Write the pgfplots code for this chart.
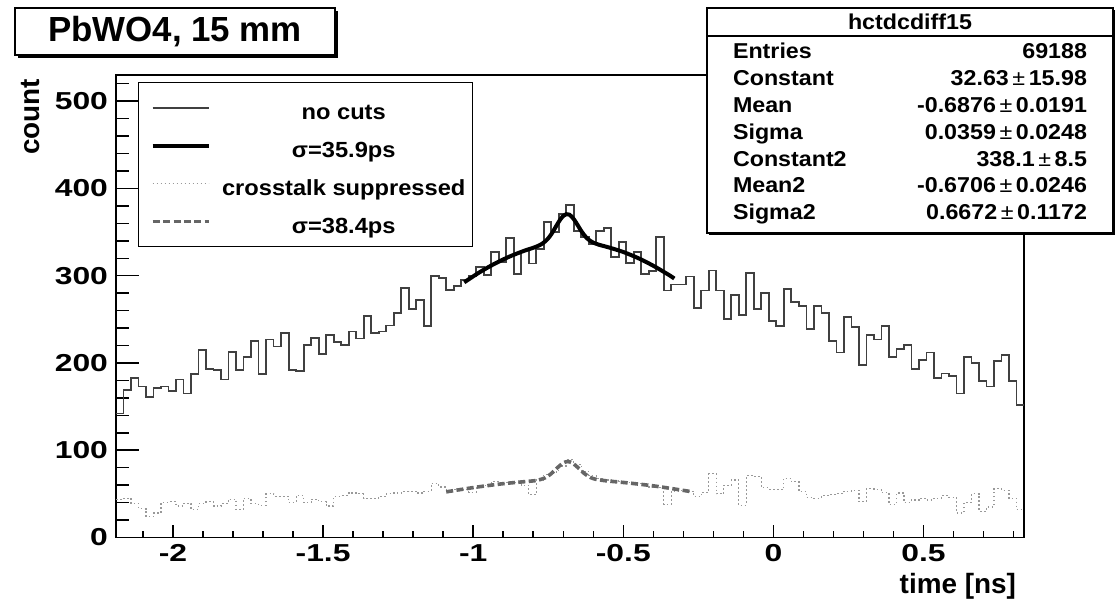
\documentclass[border=0pt]{standalone}
\usepackage{fontspec}
\setmainfont{Liberation Sans}
\newfontfamily\widefont[FakeStretch=1.3]{Liberation Sans}
\newfontfamily\midfont[FakeStretch=1.08]{Liberation Sans}
\usepackage{pgfplots}
\pgfplotsset{compat=1.18}
\usepackage{pgfplotstable}

\pgfplotstableread{
x a b
-2.190 142 44
-2.165 169 45
-2.140 183 39
-2.115 173 33
-2.090 161 24
-2.065 171 28
-2.040 173 40
-2.015 168 41
-1.990 181 36
-1.965 165 39
-1.940 187 32
-1.915 215 39
-1.890 193 41
-1.865 192 36
-1.840 181 39
-1.815 213 44
-1.790 192 32
-1.765 207 45
-1.740 225 39
-1.715 187 37
-1.690 227 50
-1.665 219 47
-1.640 234 47
-1.615 192 40
-1.590 191 48
-1.565 221 40
-1.540 229 44
-1.515 210 41
-1.490 232 36
-1.465 224 47
-1.440 221 48
-1.415 236 51
-1.390 228 50
-1.365 254 45
-1.340 234 45
-1.315 236 47
-1.290 243 50
-1.265 257 51
-1.240 286 53
-1.215 262 53
-1.190 272 51
-1.165 242 53
-1.140 300 62
-1.115 297 58
-1.090 284 53
-1.065 288 55
-1.040 295 55
-1.015 300 52
-0.990 310 57
-0.965 301 60
-0.940 327 64
-0.915 316 62
-0.890 343 63
-0.865 302 63
-0.840 329 60
-0.815 314 49
-0.790 331 66
-0.765 362 72
-0.740 350 75
-0.715 371 82
-0.690 381 89
-0.665 351 84
-0.640 344 76
-0.615 336 71
-0.590 351 68
-0.565 355 66
-0.540 321 65
-0.515 339 64
-0.490 315 63
-0.465 327 62
-0.440 302 60
-0.415 305 58
-0.390 344 57
-0.365 283 38
-0.340 290 53
-0.315 290 54
-0.290 299 53
-0.265 263 47
-0.240 283 52
-0.215 306 73
-0.190 283 50
-0.165 250 60
-0.140 278 66
-0.115 255 37
-0.090 303 71
-0.065 262 70
-0.040 280 57
-0.015 248 55
0.010 242 55
0.035 285 68
0.060 270 64
0.085 265 53
0.110 239 46
0.135 265 45
0.160 257 48
0.185 225 49
0.210 212 50
0.235 253 53
0.260 241 54
0.285 198 41
0.310 232 56
0.335 227 55
0.360 242 52
0.385 207 38
0.410 216 51
0.435 221 40
0.460 193 43
0.485 203 45
0.510 212 43
0.535 183 45
0.560 188 48
0.585 185 46
0.610 165 28
0.635 207 40
0.660 200 50
0.685 179 30
0.710 173 35
0.735 202 56
0.760 209 54
0.785 179 45
0.810 152 32
0.835 152 32
}\histdata

\pgfplotstableread{
x y
-1.03 292.4
-0.98 303.7
-0.93 313.5
-0.88 321.8
-0.83 328.6
-0.80 332.0
-0.78 334.8
-0.77 336.7
-0.76 339.4
-0.75 342.9
-0.74 347.5
-0.73 353.1
-0.72 358.9
-0.71 364.4
-0.70 368.5
-0.69 370.6
-0.68 370.0
-0.67 367.0
-0.66 362.4
-0.65 356.8
-0.64 351.3
-0.63 346.5
-0.62 342.6
-0.61 339.9
-0.60 337.9
-0.58 335.4
-0.55 332.6
-0.50 327.2
-0.45 320.1
-0.40 311.4
-0.35 301.3
-0.33 296.8
}\fitA

\pgfplotstableread{
x y
-1.09 52.3
-1.00 57.2
-0.90 61.7
-0.80 64.9
-0.78 66.1
-0.76 68.5
-0.74 73.2
-0.72 79.8
-0.70 85.5
-0.685 87.0
-0.67 85.5
-0.65 79.8
-0.63 73.4
-0.61 68.9
-0.59 66.6
-0.55 64.7
-0.50 63.1
-0.40 59.2
-0.30 54.0
-0.27 52.3
}\fitB

\newcommand{\tkf}{\widefont\bfseries\fontsize{12.3}{14}\selectfont}
\newcommand{\ttf}{\bfseries\fontsize{14}{16}\selectfont}
\newcommand{\lgf}{\midfont\bfseries\fontsize{11}{12}\selectfont}
\newcommand{\stf}{\midfont\bfseries\fontsize{10.8}{12}\selectfont}

\begin{document}
\begin{tikzpicture}[x=0.5bp,y=-0.5bp]
\path[use as bounding box] (0,0) rectangle (1116,602);

% title box
\fill[black] (18,11) rectangle (338,58);
\draw[fill=white, line width=0.7bp] (15,8) rectangle (335,55);
\node[font=\bfseries\fontsize{17.5}{20}\selectfont] at (175,32) {PbWO4, 15 mm};

% y ticks axis
\begin{axis}[
  at={(58bp,-268.75bp)}, anchor=south west, scale only axis,
  width=454bp, height=231.25bp,
  xmin=-2.19, xmax=0.835, ymin=0, ymax=530,
  axis line style={line width=0.75bp},
  xtick=\empty,
  ytick={0,100,200,300,400,500},
  yticklabels={0,100,200,300,400,500},
  minor ytick={20,40,60,80,120,140,160,180,220,240,260,280,320,340,360,380,420,440,460,480,520},
  tick align=inside, ytick pos=left,
  major tick length=11.5bp, minor tick length=6.3bp,
  every tick/.style={black, line width=0.75bp},
  yticklabel style={font=\tkf, xshift=-0.5bp},
]
\end{axis}

\begin{axis}[
  at={(58bp,-268.75bp)}, anchor=south west, scale only axis,
  width=454bp, height=231.25bp,
  xmin=-2.19, xmax=0.835, ymin=0, ymax=530,
  axis line style={line width=0.75bp},
  ytick=\empty,
  xtick={-2,-1.5,-1,-0.5,0,0.5},
  xticklabels={-2,-1.5,-1,-0.5,0,0.5},
  minor xtick={-2.1,-1.9,-1.8,-1.7,-1.6,-1.4,-1.3,-1.2,-1.1,-0.9,-0.8,-0.7,-0.6,-0.4,-0.3,-0.2,-0.1,0.1,0.2,0.3,0.4,0.6,0.7,0.8},
  tick align=inside, xtick pos=left,
  major tick length=6.5bp, minor tick length=3.5bp,
  every tick/.style={black, line width=0.75bp},
  xticklabel style={font=\tkf},
  legend image code/.code={\draw[#1] (0bp,0bp) -- (28bp,0bp);},
  legend style={at={(0.0242,0.9850)}, anchor=north west, draw=black,
    line width=0.75bp, fill=white, font=\lgf, inner xsep=6bp, inner ysep=3bp,
    column sep=8bp, row sep=0bp},
  legend cell align=left,
]
\addplot[const plot mark left, black!75, line width=0.9bp] table[x=x,y=a]{\histdata};
\addlegendentry{\makebox[113bp][c]{\rule[-8bp]{0pt}{21.5bp}no cuts}}
\addplot[black, line width=2bp, smooth] table[x=x,y=y]{\fitA};
\addlegendentry{\makebox[113bp][c]{\rule[-8bp]{0pt}{21.5bp}σ=35.9ps}}
\addplot[const plot mark left, black!40, line width=0.6bp, dash pattern=on 0.8bp off 1.2bp] table[x=x,y=b]{\histdata};
\addlegendentry{\makebox[113bp][c]{\rule[-8bp]{0pt}{21.5bp}crosstalk suppressed}}
\addplot[black!60, line width=1.8bp, dash pattern=on 3.5bp off 1.7bp, smooth] table[x=x,y=y]{\fitB};
\addlegendentry{\makebox[113bp][c]{\rule[-8bp]{0pt}{21.5bp}σ=38.4ps}}
\end{axis}

% axis titles
\node[rotate=90, anchor=east, font=\ttf] at (31,72) {count};
\node[anchor=east, font=\ttf] at (1023,586) {time [ns]};

% stats box
\fill[black] (709,10) rectangle (1115,235);
\draw[fill=white, line width=0.6bp] (707,8) rectangle (1113,233);
\draw[line width=0.6bp] (707,36) -- (1113,36);
\node[font=\stf] at (910,22) {hctdcdiff15};
\foreach \n/\v/\yy in {Entries/69188/59, Constant/{32.63\,{\mdseries ±}\,15.98}/85.8, Mean/{-0.6876\,{\mdseries ±}\,0.0191}/112.6, Sigma/{0.0359\,{\mdseries ±}\,0.0248}/139.4, Constant2/{338.1\,{\mdseries ±}\,8.5}/166.2, Mean2/{-0.6706\,{\mdseries ±}\,0.0246}/193, Sigma2/{0.6672\,{\mdseries ±}\,0.1172}/219.8}{
  \node[anchor=base west, font=\stf] at (726,\yy) {\n};
  \node[anchor=base east, font=\stf] at (1094,\yy) {\v};
}
\end{tikzpicture}
\end{document}
